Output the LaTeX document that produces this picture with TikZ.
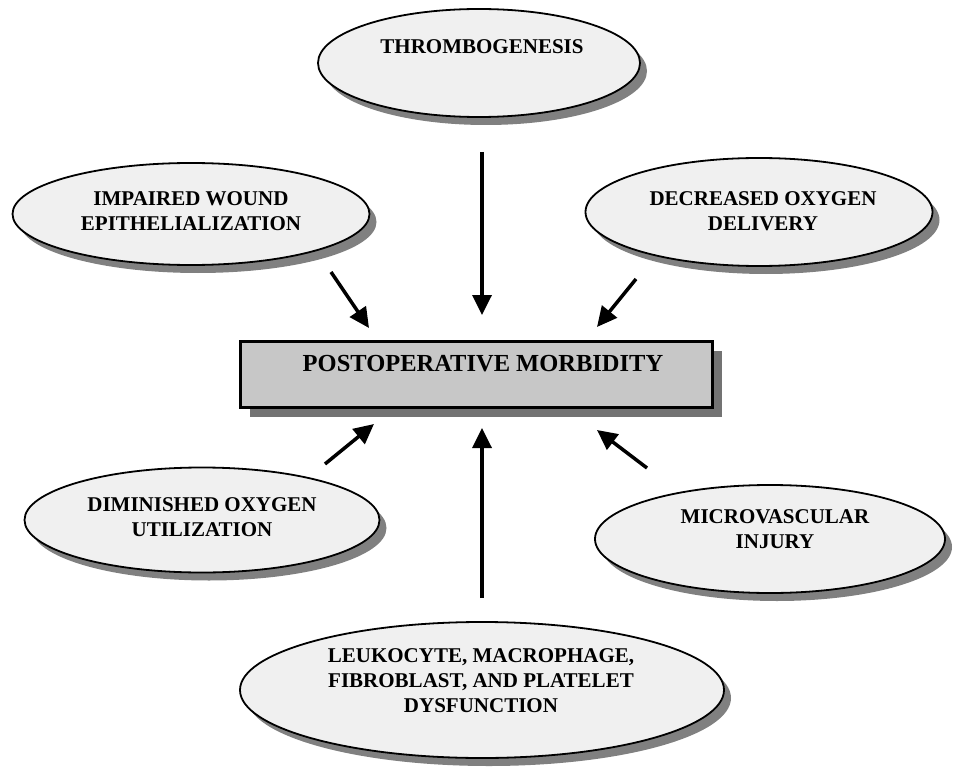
\documentclass[tikz,border=0pt]{standalone}
\usepackage{fontspec}
\setmainfont{Liberation Serif}
\usetikzlibrary{shapes.geometric,shadows,arrows.meta}
\definecolor{ellfill}{gray}{0.94}
\definecolor{boxfill}{gray}{0.78}
\definecolor{shadowgray}{gray}{0.5}
\definecolor{boxshadow}{gray}{0.45}
\begin{document}
\begin{tikzpicture}[x=1pt,y=-1pt,
  oval/.style={ellipse, draw=black, line width=1.8pt, fill=ellfill, inner sep=0pt,
    drop shadow={shadow xshift=7pt, shadow yshift=-8pt, fill=shadowgray, opacity=1}},
  lbl/.style={font=\fontsize{21}{25}\selectfont\bfseries, align=center, inner sep=0pt},
  mainbox/.style={rectangle, draw=black, line width=3pt, fill=boxfill, inner sep=0pt,
    drop shadow={shadow xshift=10pt, shadow yshift=-10pt, fill=boxshadow, opacity=1}},
  arr/.style={line width=3.5pt, -{Triangle[length=20pt,width=19pt]}},
]
\useasboundingbox (0,0) rectangle (953,770);

% ellipses
\node[oval, minimum width=322pt, minimum height=108pt] (thr) at (479,63) {};
\node[oval, minimum width=357pt, minimum height=102pt] (imp) at (191,214) {};
\node[oval, minimum width=347pt, minimum height=108pt] (dec) at (759,212) {};
\node[oval, minimum width=355pt, minimum height=105pt] (dim) at (202,520) {};
\node[oval, minimum width=350pt, minimum height=108pt] (mic) at (770,539) {};
\node[oval, minimum width=484pt, minimum height=136pt] (leu) at (482,690) {};

% central box
\node[mainbox, minimum width=472pt, minimum height=66pt] (box) at (476,374) {};

% texts
\node[lbl] (thrt) at (482,47) {THROMBOGENESIS};
\node[lbl] (impt) at (191,211) {IMPAIRED WOUND\\EPITHELIALIZATION};
\node[lbl] (dect) at (763,211) {DECREASED OXYGEN\\DELIVERY};
\node[lbl] (dimt) at (202,517) {DIMINISHED OXYGEN\\UTILIZATION};
\node[lbl] (mict) at (775,529) {MICROVASCULAR\\INJURY};
\node[lbl] (leut) at (481,681) {LEUKOCYTE, MACROPHAGE,\\FIBROBLAST, AND PLATELET\\DYSFUNCTION};
\node[font=\fontsize{24.5}{29}\selectfont\bfseries, inner sep=0pt] (boxt) at (483,364) {POSTOPERATIVE MORBIDITY};

% arrow end points
\coordinate (t1) at (482,152); \coordinate (t2) at (482,315);
\coordinate (ul1) at (331,272); \coordinate (ul2) at (369,328);
\coordinate (ur1) at (636,279); \coordinate (ur2) at (597,327);
\coordinate (ll1) at (325,464); \coordinate (ll2) at (374,424);
\coordinate (lr1) at (647,468); \coordinate (lr2) at (597,430);
\coordinate (b1) at (482,598); \coordinate (b2) at (482,428);

\draw[arr] (t1) -- (t2);
\draw[arr] (ul1) -- (ul2);
\draw[arr] (ur1) -- (ur2);
\draw[arr] (ll1) -- (ll2);
\draw[arr] (lr1) -- (lr2);
\draw[arr] (b1) -- (b2);
\end{tikzpicture}
\end{document}
